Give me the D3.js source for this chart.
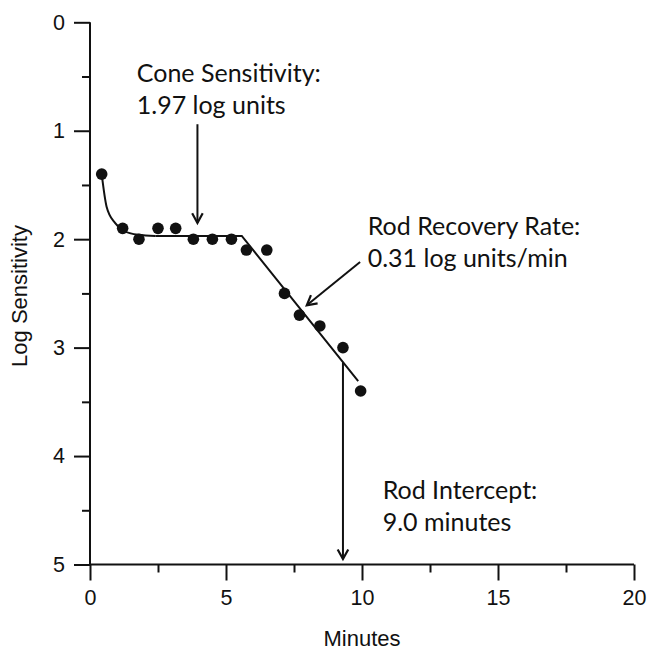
<!DOCTYPE html>
<html>
<head>
<meta charset="utf-8">
<title>Dark adaptation</title>
<script src="https://d3js.org/d3.v7.min.js"></script>
<style>
  body { margin: 0; background: #fff; }
  .axis text { font-family: "Liberation Sans", Arial, sans-serif; font-size: 21.5px; fill: #111; }
  .axis path, .axis line { stroke: #111; stroke-width: 2; }
  .note { font-family: Lato, "Open Sans", sans-serif; font-size: 25px; fill: #111; }
  .label { font-family: "Liberation Sans", Arial, sans-serif; font-size: 22px; fill: #111; }
</style>
</head>
<body>
<script>
// data
var minutes = [0.43, 1.2, 1.8, 2.5, 3.15, 3.8, 4.5, 5.2, 5.75, 6.5, 7.15, 7.7, 8.45, 9.3, 9.95];
var logSens = [1.4, 1.9, 2.0, 1.9, 1.9, 2.0, 2.0, 2.0, 2.1, 2.1, 2.5, 2.7, 2.8, 3.0, 3.4];

// fitted curve: early cone drop, plateau, rod slope
var fitCurveX = [0.43, 0.61, 0.92, 1.22, 1.78, 2.4];
var fitCurveY = [1.4, 1.70, 1.85, 1.92, 1.96, 1.97];
var fitLineX = [2.4, 5.58, 9.86];
var fitLineY = [1.97, 1.97, 3.31];

var xTicks = [0, 5, 10, 15, 20];
var xMinor = [2.5, 7.5, 12.5, 17.5];
var yTicks = [0, 1, 2, 3, 4, 5];
var yMinor = [0.5, 1.5, 2.5, 3.5, 4.5];

// annotations: arrow start/end in data units
var notes = [
  {lines: ["Cone Sensitivity:", "1.97 log units"], tx: 1.72, ty: 0.55, from: [3.95, 0.94], to: [3.95, 1.85]},
  {lines: ["Rod Recovery Rate:", "0.31 log units/min"], tx: 10.21, ty: 1.96, from: [9.93, 2.21], to: [7.97, 2.61]},
  {lines: ["Rod Intercept:", "9.0 minutes"], tx: 10.76, ty: 4.4, from: [9.3, 3.135], to: [9.3, 4.95]}
];

var W = 649, H = 652;
var svg = d3.select("body").append("svg").attr("width", W).attr("height", H);

var x = d3.scaleLinear().domain([0, 20]).range([90, 634]);
var y = d3.scaleLinear().domain([0, 5]).range([22.3, 564.5]);

// axes (major + minor ticks)
svg.append("g").attr("class", "axis")
  .attr("transform", "translate(0," + y(5) + ")")
  .call(d3.axisBottom(x).tickValues(xTicks).tickSize(16).tickPadding(9).tickFormat(d3.format("d")));
svg.append("g").attr("class", "axis")
  .attr("transform", "translate(0," + y(5) + ")")
  .call(d3.axisBottom(x).tickValues(xMinor).tickSize(8).tickFormat(""));

svg.append("g").attr("class", "axis")
  .attr("transform", "translate(" + x(0) + ",0)")
  .call(d3.axisLeft(y).tickValues(yTicks).tickSize(16).tickPadding(9).tickFormat(d3.format("d")));
svg.append("g").attr("class", "axis")
  .attr("transform", "translate(" + x(0) + ",0)")
  .call(d3.axisLeft(y).tickValues(yMinor).tickSize(8).tickFormat(""));

// plain domain lines without outer ticks
svg.selectAll(".axis .domain").remove();
svg.append("line").attr("x1", x(0)).attr("x2", x(20)).attr("y1", y(5)).attr("y2", y(5))
  .attr("stroke", "#111").attr("stroke-width", 2);
svg.append("line").attr("x1", x(0)).attr("x2", x(0)).attr("y1", y(0)).attr("y2", y(5))
  .attr("stroke", "#111").attr("stroke-width", 2);

svg.append("text").attr("class", "label").attr("x", x(10)).attr("y", 646).attr("text-anchor", "middle")
  .text("Minutes");
svg.append("text").attr("class", "label").attr("transform", "translate(27,296) rotate(-90)").attr("text-anchor", "middle")
  .text("Log Sensitivity");

// fit
var curvePts = fitCurveX.map(function (d, i) { return [d, fitCurveY[i]]; });
var linePts = fitLineX.map(function (d, i) { return [d, fitLineY[i]]; });
var line = d3.line().x(function (d) { return x(d[0]); }).y(function (d) { return y(d[1]); });
svg.append("path")
  .attr("d", line.curve(d3.curveMonotoneX)(curvePts))
  .attr("fill", "none").attr("stroke", "#111").attr("stroke-width", 2);
svg.append("path")
  .attr("d", line.curve(d3.curveLinear)(linePts))
  .attr("fill", "none").attr("stroke", "#111").attr("stroke-width", 2);

// points
svg.selectAll("circle.pt").data(minutes).enter().append("circle")
  .attr("class", "pt")
  .attr("cx", function (d) { return x(d); })
  .attr("cy", function (d, i) { return y(logSens[i]); })
  .attr("r", 5.8)
  .attr("fill", "#111");

// annotations
notes.forEach(function (n) {
  var t = svg.append("text").attr("class", "note");
  n.lines.forEach(function (s, i) {
    t.append("tspan").attr("x", x(n.tx)).attr("y", y(n.ty) + i * 32).text(s);
  });
  var x1 = x(n.from[0]), y1 = y(n.from[1]), x2 = x(n.to[0]), y2 = y(n.to[1]);
  svg.append("line").attr("x1", x1).attr("y1", y1).attr("x2", x2).attr("y2", y2)
    .attr("stroke", "#111").attr("stroke-width", 2);
  var a = Math.atan2(y2 - y1, x2 - x1), len = 11, spread = 0.5;
  var p1 = [x2 - len * Math.cos(a - spread), y2 - len * Math.sin(a - spread)];
  var p2 = [x2 - len * Math.cos(a + spread), y2 - len * Math.sin(a + spread)];
  svg.append("path").attr("d", "M" + p1 + "L" + x2 + "," + y2 + "L" + p2)
    .attr("fill", "none").attr("stroke", "#111").attr("stroke-width", 2.2);
});
</script>
</body>
</html>
